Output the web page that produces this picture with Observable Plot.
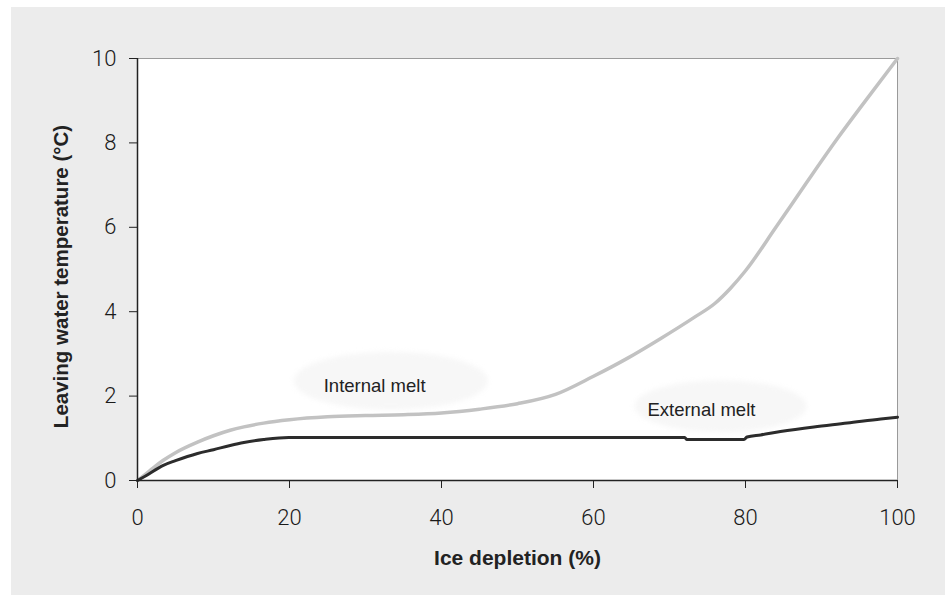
<!DOCTYPE html>
<html>
<head>
<meta charset="utf-8">
<script src="https://cdn.jsdelivr.net/npm/d3@7"></script>
<script src="https://cdn.jsdelivr.net/npm/@observablehq/plot@0.6"></script>
<style>
  html, body { margin: 0; padding: 0; background: #ffffff; }
  #chart { padding: 7px 0 0 11px; }
  #chart svg { display: block; background: #ececec; }
</style>
</head>
<body>
<div id="chart"></div>
<script>
// Ice depletion (%) and leaving water temperature (°C) for the two melt types
const internalDepletion = [0, 1, 2, 3.4, 5, 7.9, 10, 12.2, 14, 16.6, 20, 25, 30, 35, 40, 45, 50, 55, 60, 64.5, 68.8, 73.2, 76, 78, 80, 84, 88, 92, 96, 100];
const internalMelt      = [0, 0.14, 0.29, 0.48, 0.66, 0.91, 1.06, 1.19, 1.27, 1.36, 1.44, 1.51, 1.54, 1.56, 1.6, 1.69, 1.82, 2.04, 2.47, 2.9, 3.36, 3.86, 4.2, 4.55, 4.97, 6.0, 7.05, 8.08, 9.05, 10];

const externalDepletion = [0, 1, 3.4, 5, 7.9, 10, 12.2, 14, 16.6, 19.9, 22, 40, 60, 72, 72.3, 79.8, 80.2, 82, 84.6, 89, 93.4, 97.8, 100];
const externalMelt      = [0, 0.1, 0.36, 0.47, 0.64, 0.73, 0.83, 0.9, 0.97, 1.02, 1.02, 1.02, 1.02, 1.02, 0.97, 0.97, 1.03, 1.08, 1.16, 1.27, 1.36, 1.46, 1.5];

// Curve labels
const labelNames = ["Internal melt", "External melt"];
const labelX = [31.2, 74.2];
const labelY = [2.23, 1.68];
const haloX = [33.4, 76.8];
const haloY = [2.35, 1.75];

const xTicks = [0, 20, 40, 60, 80, 100];
const yTicks = [0, 2, 4, 6, 8, 10];

const internal = internalDepletion.map((d, i) => ({x: d, y: internalMelt[i]}));
const external = externalDepletion.map((d, i) => ({x: d, y: externalMelt[i]}));
const labels = labelNames.map((name, i) => ({name, x: labelX[i], y: labelY[i], hx: haloX[i], hy: haloY[i]}));

// Soft elliptical halo drawn behind a label, positioned through the plot scales
function halo(rx, ry, id) {
  return (index, scales, values) => {
    const g = d3.create("svg:g");
    const f = g.append("defs").append("filter").attr("id", id)
      .attr("color-interpolation-filters", "sRGB")
      .attr("x", "-20%").attr("y", "-40%").attr("width", "140%").attr("height", "180%");
    f.append("feGaussianBlur").attr("stdDeviation", 2.5);
    for (const i of index) {
      g.append("ellipse")
        .attr("cx", values.x[i]).attr("cy", values.y[i])
        .attr("rx", rx).attr("ry", ry)
        .attr("fill", "#f7f7f7")
        .attr("filter", `url(#${id})`);
    }
    return g.node();
  };
}

const tickFont = "Roboto, 'Liberation Sans', sans-serif";

const chart = Plot.plot({
  width: 934,
  height: 588,
  marginLeft: 126,
  marginRight: 48,
  marginTop: 51,
  marginBottom: 115,
  style: {fontFamily: "'Liberation Sans', Arial, sans-serif", color: "#222"},
  x: {domain: [0, 100]},
  y: {domain: [0, 10]},
  marks: [
    Plot.frame({fill: "white", stroke: "#9a9a9a"}),
    Plot.dot([labels[0]], {x: "hx", y: "hy", render: halo(97, 29, "halo-int")}),
    Plot.dot([labels[1]], {x: "hx", y: "hy", render: halo(86, 26, "halo-ext")}),
    Plot.text(labels, {x: "x", y: "y", text: "name", fontSize: 18.5, fill: "#222"}),
    Plot.line(internal, {x: "x", y: "y", stroke: "#c2c2c2", strokeWidth: 3.5, curve: "monotone-x"}),
    Plot.line(external, {x: "x", y: "y", stroke: "#2c2c2c", strokeWidth: 3, curve: "monotone-x"}),
    Plot.ruleX([0], {stroke: "#222", strokeWidth: 1.5}),
    Plot.ruleY([0], {stroke: "#222", strokeWidth: 1.5}),
    Plot.axisX({ticks: xTicks, tickSize: 8, tickPadding: 21, fontSize: 22, fontWeight: 300, fontFamily: tickFont, fill: "#1a1a1a", label: null, tickFormat: d => String(d)}),
    Plot.axisY({ticks: yTicks, tickSize: 8, tickPadding: 13, fontSize: 22, fontWeight: 300, fontFamily: tickFont, fill: "#1a1a1a", label: null, tickFormat: d => String(d)}),
    Plot.text(["Ice depletion (%)"], {frameAnchor: "bottom", dy: 84, fontSize: 21, fontWeight: "bold", fill: "#222"}),
    Plot.text(["Leaving water temperature (°C)"], {frameAnchor: "left", textAnchor: "middle", lineAnchor: "middle", dx: -76, dy: 7, rotate: -90, fontSize: 20.5, fontWeight: "bold", fill: "#222"})
  ]
});

document.getElementById("chart").append(chart);
</script>
</body>
</html>
